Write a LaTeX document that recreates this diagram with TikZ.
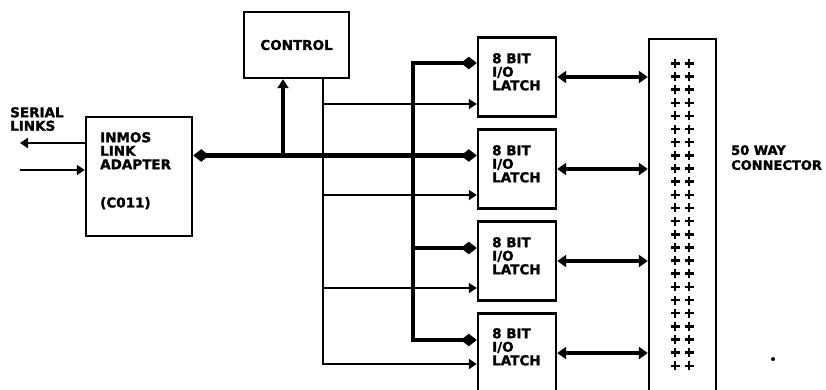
\documentclass[tikz,border=0pt]{standalone}
\usepackage{fontspec}
\setmainfont{DejaVu Sans}[BoldFeatures={FakeBold=1.6}]
\usetikzlibrary{arrows.meta}
\tikzset{
  box/.style={draw,line width=2.4pt,rectangle,inner sep=0pt,font=\fontsize{13.5}{13.5}\selectfont\bfseries},
  txt/.style={font=\fontsize{13.5}{13.5}\selectfont\bfseries,inner sep=0pt,align=left,anchor=north west},
  ctrl/.style={line width=2.4pt},
  ser/.style={line width=2.8pt},
  bus/.style={line width=4.6pt},
  bidi/.style={{Triangle[length=8pt,width=12pt,sep=0pt]Triangle[length=8pt,width=12pt,reversed]}-{Triangle[length=8pt,width=12pt,reversed,sep=0pt]Triangle[length=8pt,width=12pt]}},
  tobox/.style={-{Triangle[length=8pt,width=12pt,reversed,sep=0pt]Triangle[length=8pt,width=12pt]}},
  dbl/.style={{Triangle[length=9pt,width=12pt]}-{Triangle[length=9pt,width=12pt]}},
  stip/.style={-{Triangle[length=8pt,width=10pt]}},
}
\begin{document}
\begin{tikzpicture}[x=1pt,y=-1pt]
\useasboundingbox (0,0) rectangle (826,389);
% boxes
\node[box,minimum width=106pt,minimum height=119pt] (ad) at (139,176.5) {};
\node[box,minimum width=105pt,minimum height=66pt] (ctl) at (296.5,45) {CONTROL};
\node[box,minimum width=78pt,minimum height=79pt] (l1) at (517,77) {};
\node[box,minimum width=78pt,minimum height=79pt] (l2) at (517,169) {};
\node[box,minimum width=78pt,minimum height=79pt] (l3) at (517,261) {};
\node[box,minimum width=78pt,minimum height=79pt] (l4) at (517,353) {};
\node[box,minimum width=67pt,minimum height=380pt,anchor=north] (conn) at (682.5,38) {};
% texts
\node[txt] (serial) at (10,107) {SERIAL\\LINKS};
\node[txt] (adt) at (100,132) {INMOS\\LINK\\ADAPTER};
\node[txt] (co) at (100,197) {(C011)};
\node[txt] (l1t) at (492,53) {8 BIT\\I/O\\LATCH};
\node[txt] (l2t) at (492,145) {8 BIT\\I/O\\LATCH};
\node[txt] (l3t) at (492,237) {8 BIT\\I/O\\LATCH};
\node[txt] (l4t) at (492,328) {8 BIT\\I/O\\LATCH};
\node[txt,font=\fontsize{13}{13.5}\selectfont\bfseries] (way) at (731,145) {50 WAY\\[1.5pt]CONNECTOR};
% coordinates
\coordinate (busy) at (0,155.5);
\coordinate (tx) at (323,0);
\coordinate (ux) at (283,0);
\coordinate (so) at (20,143);
\coordinate (si) at (20,170);
\coordinate (b1) at (413,63);
\coordinate (b3) at (413,248);
\coordinate (b4) at (413,340);
\coordinate (t1) at (323,104);
\coordinate (t2) at (323,195);
\coordinate (t3) at (323,288);
\coordinate (t4) at (323,364);
% serial links
\draw[ser,stip] (ad.west|-so) -- (so);
\draw[ser,stip] (si) -- (ad.west|-si);
% control lines
\draw[ctrl,stip] (ctl.south-|tx) -- (t4) -- (l4.west|-t4);
\draw[ctrl,stip] (t1) -- (l1.west|-t1);
\draw[ctrl,stip] (t2) -- (l2.west|-t2);
\draw[ctrl,stip] (t3) -- (l3.west|-t3);
% data bus
\draw[bus,bidi] (ad.east|-busy) -- (l2.west|-busy);
\draw[bus,bidi] (l1.west|-b1) -- (b1) -- (b4) -- (l4.west|-b4);
\draw[bus,tobox] (b3) -- (l3.west|-b3);
\draw[line width=3.8pt,-{Triangle[length=9pt,width=11pt]}] (ux|-busy) -- (ctl.south-|ux);
% latch to connector
\draw[bus,dbl] (l1.east) -- (conn.west|-l1.east);
\draw[bus,dbl] (l2.east) -- (conn.west|-l2.east);
\draw[bus,dbl] (l3.east) -- (conn.west|-l3.east);
\draw[bus,dbl] (l4.east) -- (conn.west|-l4.east);
% connector pins
\foreach \i in {0,...,23}{
  \pgfmathsetmacro\yy{63.3+13.15*\i}
  \foreach \xx in {675,689}{
    \draw[line width=2.5pt] (\xx-4.5,\yy) -- (\xx+4.5,\yy) (\xx,\yy-4.5) -- (\xx,\yy+4.5);
  }
}
\fill (773,359) circle (2);
\end{tikzpicture}
\end{document}
